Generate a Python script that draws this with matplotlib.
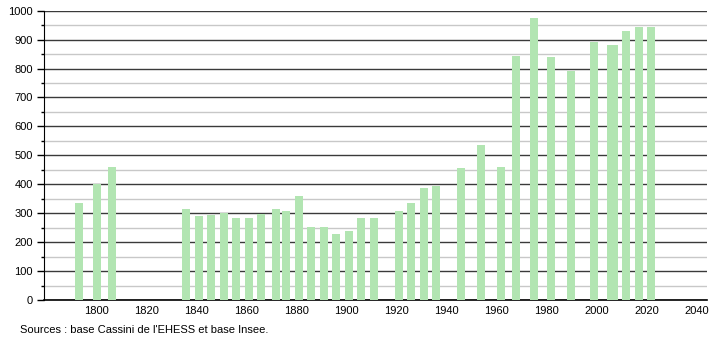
import matplotlib.pyplot as plt
from matplotlib.ticker import MultipleLocator

plt.rcParams['font.family'] = ['Liberation Sans', 'DejaVu Sans']

# census years and population
years = [1793, 1800, 1806, 1836, 1841, 1846, 1851, 1856, 1861, 1866,
         1872, 1876, 1881, 1886, 1891, 1896, 1901, 1906, 1911, 1921,
         1926, 1931, 1936, 1946, 1954, 1962, 1968, 1975, 1982, 1990,
         1999, 2006, 2007, 2012, 2017, 2022]
population = [335, 402, 460, 315, 291, 294, 302, 283, 283, 298,
              315, 308, 360, 252, 252, 229, 238, 283, 283, 309,
              334, 388, 394, 457, 536, 461, 843, 975, 840, 793,
              892, 882, 882, 930, 945, 945]
xticks = [1800, 1820, 1840, 1860, 1880, 1900, 1920, 1940, 1960, 1980, 2000, 2020, 2040]
source = "Sources : base Cassini de l'EHESS et base Insee."

fig = plt.figure(figsize=(7.1, 3.4), dpi=100)
ax = fig.add_axes([0.062, 0.1176, 0.934, 0.851])

ax.bar(years, population, width=3.2, color='#b2e5b2', zorder=3)

ax.set_ylim(0, 1000)
ax.set_xlim(1779, 2044.3)
ax.yaxis.set_major_locator(MultipleLocator(100))
ax.yaxis.set_minor_locator(MultipleLocator(50))
ax.set_xticks(xticks)

ax.grid(axis='y', which='major', color='#3a3a3a', linewidth=1.0, zorder=1)
ax.grid(axis='y', which='minor', color='#c8c8c8', linewidth=1.0, zorder=1)

for s in ['top', 'right']:
    ax.spines[s].set_visible(False)
ax.spines['left'].set_color('black')
ax.spines['bottom'].set_color('black')
ax.spines['bottom'].set_linewidth(1.2)

ax.tick_params(axis='y', which='major', length=5, width=1, labelsize=8, pad=3)
ax.tick_params(axis='y', which='minor', length=2.5, width=1)
ax.tick_params(axis='x', length=0, labelsize=8, pad=4)

fig.text(0.028, 0.02, source, fontsize=8, ha='left', va='baseline')

fig.savefig('out.png', dpi=100)
